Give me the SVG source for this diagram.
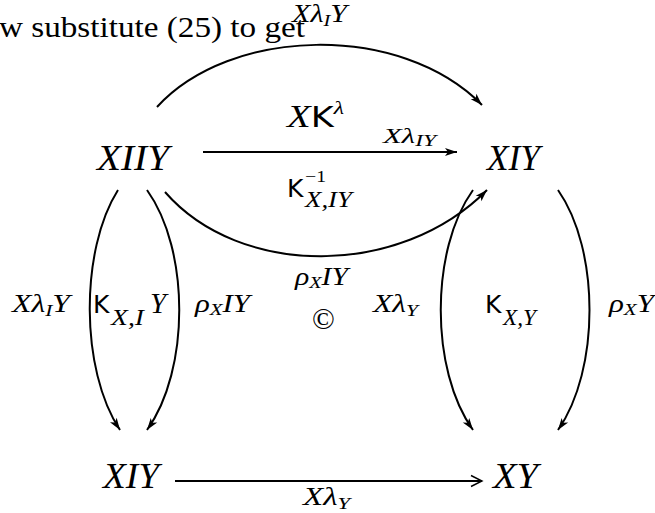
<svg xmlns="http://www.w3.org/2000/svg" width="655" height="513" viewBox="0 0 655 513">
<style>
.m{font-family:"Liberation Serif",serif;font-style:italic;fill:#000}
.r{font-family:"Liberation Serif",serif;fill:#000}
.k{font-family:"DejaVu Sans",sans-serif;font-style:normal;fill:#000}
.n{font-size:36px}
.l{font-size:25px}
.e{fill:none;stroke:#000;stroke-width:2}
</style>
<defs>
<marker id="a" markerUnits="userSpaceOnUse" markerWidth="14" markerHeight="10" refX="12" refY="5" orient="auto" overflow="visible">
<path d="M0,1 L12,5 L0,9 L3,5 Z" fill="#000"/>
</marker>
<marker id="o" markerUnits="userSpaceOnUse" markerWidth="14" markerHeight="12" refX="12" refY="6" orient="auto" overflow="visible">
<path d="M1,0.5 Q8,4 12,6 Q8,8 1,11.5" fill="none" stroke="#000" stroke-width="1.4"/>
</marker>
</defs>

<text class="r" x="-1" y="37" font-size="29" textLength="306" lengthAdjust="spacingAndGlyphs">w substitute (25) to get</text>

<g id="XIIY"><text class="m n" x="97" y="170" textLength="72" lengthAdjust="spacingAndGlyphs">XIIY</text></g>
<g id="XIY_top"><text class="m n" x="487" y="170" textLength="53" lengthAdjust="spacingAndGlyphs">XIY</text></g>
<g id="XIY_bottom"><text class="m n" x="103" y="488" textLength="56" lengthAdjust="spacingAndGlyphs">XIY</text></g>
<g id="XY"><text class="m n" x="493" y="488" textLength="45" lengthAdjust="spacingAndGlyphs">XY</text></g>

<g id="connectors">
<path class="e" d="M157,107 C230,27 400,22 482,105" marker-end="url(#a)"/>
<path class="e" d="M203,152 L457,152" marker-end="url(#a)"/>
<path class="e" d="M165,192 C240,278 400,278 487,190" marker-end="url(#a)"/>
<path class="e" d="M118,190 C80,250 80,370 120,430" marker-end="url(#a)"/>
<path class="e" d="M147,190 C190,250 190,370 147,430" marker-end="url(#a)"/>
<path class="e" d="M473,190 C430,250 430,370 473,430" marker-end="url(#a)"/>
<path class="e" d="M558,190 C600,250 600,370 558,430" marker-end="url(#a)"/>
<path class="e" d="M175,481 L482,481" marker-end="url(#o)"/>
</g>

<g id="labels">
<text class="m l" x="292" y="22" textLength="55" lengthAdjust="spacingAndGlyphs">Xλ<tspan font-size="17" dy="4">I</tspan><tspan dy="-4">Y</tspan></text>
<text class="m" x="287" y="127" font-size="31" textLength="57" lengthAdjust="spacingAndGlyphs">X<tspan class="k" font-size="28">K</tspan><tspan font-size="19" dy="-13">λ</tspan></text>
<text class="m" x="383" y="143" font-size="21" textLength="53" lengthAdjust="spacingAndGlyphs">Xλ<tspan font-size="16" dy="3">IY</tspan></text>
<text class="k" x="287" y="197" font-size="25">K</text>
<text class="r" x="305" y="182" font-size="17" textLength="21" lengthAdjust="spacingAndGlyphs">−1</text>
<text class="m" x="305" y="207" font-size="23" textLength="47" lengthAdjust="spacingAndGlyphs">X,IY</text>
<text class="m l" x="295" y="285" textLength="53" lengthAdjust="spacingAndGlyphs">ρ<tspan font-size="17" dy="3">X</tspan><tspan dy="-3">IY</tspan></text>
<text class="r" x="312" y="329" font-size="30">©</text>
<text class="m l" x="12" y="312" textLength="58" lengthAdjust="spacingAndGlyphs">Xλ<tspan font-size="17" dy="4">I</tspan><tspan dy="-4">Y</tspan></text>
<text class="k" x="93" y="313" font-size="25">K</text>
<text class="m" x="111" y="325" font-size="23" textLength="33" lengthAdjust="spacingAndGlyphs">X,I</text>
<text class="m" x="150" y="313" font-size="29">Y</text>
<text class="m l" x="195" y="312" textLength="55" lengthAdjust="spacingAndGlyphs">ρ<tspan font-size="17" dy="3">X</tspan><tspan dy="-3">IY</tspan></text>
<text class="m l" x="373" y="312" textLength="45" lengthAdjust="spacingAndGlyphs">Xλ<tspan font-size="17" dy="4">Y</tspan></text>
<text class="k" x="485" y="313" font-size="25">K</text>
<text class="m" x="503" y="325" font-size="23" textLength="33" lengthAdjust="spacingAndGlyphs">X,Y</text>
<text class="m l" x="609" y="312" textLength="45" lengthAdjust="spacingAndGlyphs">ρ<tspan font-size="17" dy="3">X</tspan><tspan dy="-3">Y</tspan></text>
<text class="m l" x="303" y="505" textLength="47" lengthAdjust="spacingAndGlyphs">Xλ<tspan font-size="17" dy="4">Y</tspan></text>
</g>
</svg>
